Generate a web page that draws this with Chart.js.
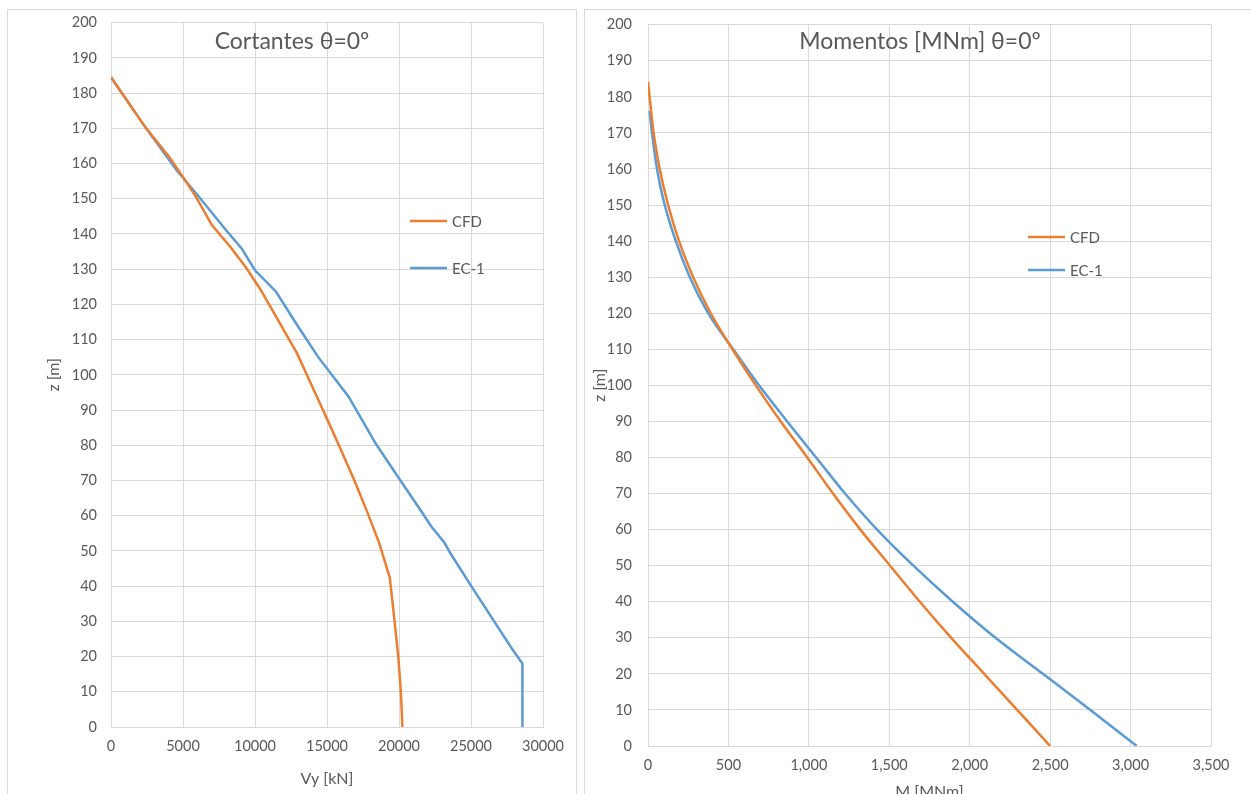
<!DOCTYPE html>
<html>
<head>
<meta charset="utf-8">
<script src="https://cdn.jsdelivr.net/npm/chart.js@4.4.1/dist/chart.umd.min.js"></script>
<style>
  html, body { margin: 0; padding: 0; background: #fff; }
  body { width: 1251px; height: 794px; overflow: hidden; position: relative; }
  .frame { position: absolute; border: 1px solid #d9d9d9; background: #fff; }
  canvas { position: absolute; top: 0; }
</style>
</head>
<body>
<div class="frame" style="left:7px; top:9px; width:568px; height:820px;"></div>
<div class="frame" style="left:584px; top:9px; width:700px; height:820px;"></div>
<canvas id="shearChart" style="left:0px;" width="580" height="794"></canvas>
<canvas id="momentChart" style="left:583px;" width="668" height="820"></canvas>

<script>
// Cortantes (shear) - z [m] vs Vy [kN]
const shearCfdZ = [184.5, 170, 161.9, 157.2, 150.6, 142.4, 136.4, 130.7, 124.1, 112.8, 106.1, 93.8, 84.8, 78.6, 70, 60.8, 52.3, 42.4, 30.5, 20, 10, 0];
const shearCfdV = [0, 2440, 4030, 4830, 5890, 7030, 8280, 9340, 10400, 11990, 12920, 14300, 15300, 15980, 16900, 17820, 18620, 19360, 19680, 19950, 20130, 20240];
const shearEcZ = [184.5, 170, 158.1, 151, 141, 135.9, 129.7, 123.6, 115, 105.1, 93.8, 80.5, 70, 61.2, 57, 52.3, 49.4, 40, 30, 22.5, 18, 0];
const shearEcV = [0, 2440, 4560, 6020, 8010, 9070, 10000, 11460, 12790, 14380, 16500, 18380, 20100, 21560, 22230, 23160, 23560, 25020, 26610, 27800, 28570, 28570];

// Momentos - z [m] vs M [MNm]
const momentCfdZ = [184.2, 180, 170, 160, 150, 140, 130, 120, 110, 100, 90, 80, 70, 60, 50, 40, 30, 20, 10, 0];
const momentCfdM = [0, 10, 35, 73, 125, 193, 281, 390, 525, 670, 825, 990, 1150, 1320, 1505, 1690, 1885, 2090, 2295, 2500];
const momentEcZ = [176.1, 170, 160, 150, 140, 130, 120, 110, 100, 90, 80, 70, 60, 50, 40, 30, 20, 10, 0];
const momentEcM = [10, 25, 56, 104, 173, 260, 374, 530, 690, 865, 1045, 1225, 1424, 1650, 1895, 2160, 2455, 2750, 3038];

const seriesNames = ['CFD', 'EC-1'];
const seriesColors = ['#ED7D31', '#5B9BD5'];

const textColor = '#595959';
const gridColor = '#d9d9d9';

Chart.defaults.font.family = 'Lato, "Open Sans", "DejaVu Sans", sans-serif';
Chart.defaults.color = textColor;

function toPoints(xs, zs) {
    return zs.map((z, i) => ({ x: xs[i], y: z }));
}

// Draws the overlay title and legend the way Excel places them inside the plot
const overlayPlugin = {
    id: 'overlay',
    afterDraw(chart, args, opts) {
        const ctx = chart.ctx;
        ctx.save();
        ctx.fillStyle = textColor;
        ctx.font = '23px Lato, "Open Sans", "DejaVu Sans", sans-serif';
        ctx.textAlign = 'center';
        ctx.textBaseline = 'middle';
        ctx.fillText(opts.title, opts.titleX, opts.titleY);

        ctx.font = '15px Lato, "Open Sans", "DejaVu Sans", sans-serif';
        ctx.textAlign = 'left';
        chart.data.datasets.forEach((ds, i) => {
            const y = opts.legendY[i];
            ctx.strokeStyle = ds.borderColor;
            ctx.lineWidth = 2.5;
            ctx.beginPath();
            ctx.moveTo(opts.legendX, y);
            ctx.lineTo(opts.legendX + 37, y);
            ctx.stroke();
            ctx.fillText(ds.label, opts.legendX + 42, y + 1);
        });
        ctx.restore();
    }
};

function makeChart(id, cfg) {
    const ctx = document.getElementById(id);
    if (!ctx) return;

    new Chart(ctx, {
        type: 'scatter',
        data: {
            datasets: cfg.series.map((s, i) => ({
                label: seriesNames[i],
                data: s,
                showLine: true,
                borderColor: seriesColors[i],
                backgroundColor: seriesColors[i],
                borderWidth: 2.5,
                pointRadius: 0,
                tension: cfg.smooth ? 0.4 : 0,
                cubicInterpolationMode: cfg.smooth ? 'monotone' : 'default'
            }))
        },
        options: {
            responsive: false,
            animation: false,
            layout: {
                padding: { left: 0, top: 21, right: cfg.padRight, bottom: 0 }
            },
            plugins: {
                legend: { display: false },
                tooltip: { enabled: false },
                title: { display: false },
                overlay: cfg.overlay
            },
            scales: {
                x: {
                    type: 'linear',
                    min: cfg.xMin,
                    max: cfg.xMax,
                    ticks: {
                        stepSize: cfg.xStep,
                        padding: 11,
                        color: textColor,
                        font: { size: 14.5 },
                        maxRotation: 0,
                        callback: cfg.xFormat
                    },
                    grid: { color: gridColor, drawTicks: false },
                    border: { color: gridColor },
                    title: {
                        display: true,
                        text: cfg.xTitle,
                        color: textColor,
                        font: { size: 16 },
                        padding: { top: 0, bottom: cfg.xTitlePad }
                    },
                    afterFit: (axis) => { axis.height = cfg.xAxisHeight; }
                },
                y: {
                    type: 'linear',
                    min: 0,
                    max: 200,
                    ticks: {
                        stepSize: 10,
                        padding: cfg.yTickPad,
                        color: textColor,
                        font: { size: 14.5 }
                    },
                    grid: { color: gridColor, drawTicks: false },
                    border: { color: gridColor },
                    title: {
                        display: true,
                        text: 'z [m]',
                        color: textColor,
                        font: { size: 16 },
                        padding: { top: cfg.yTitlePad, bottom: 0 }
                    },
                    afterFit: (axis) => { axis.width = cfg.yAxisWidth; }
                }
            }
        },
        plugins: [overlayPlugin]
    });
}

makeChart('shearChart', {
    series: [toPoints(shearCfdV, shearCfdZ), toPoints(shearEcV, shearEcZ)],
    smooth: false,
    xMin: 0, xMax: 30000, xStep: 5000,
    xFormat: (v) => String(v),
    xTitle: 'Vy [kN]',
    padRight: 37,
    xAxisHeight: 67,
    yAxisWidth: 111,
    xTitlePad: 6,
    yTickPad: 14,
    yTitlePad: 44,
    overlay: { title: 'Cortantes θ=0º', titleX: 292, titleY: 42, legendX: 410, legendY: [221, 268] }
});

makeChart('momentChart', {
    series: [toPoints(momentCfdM, momentCfdZ), toPoints(momentEcM, momentEcZ)],
    smooth: true,
    xMin: 0, xMax: 3500, xStep: 500,
    xFormat: (v) => v.toLocaleString('en-US'),
    xTitle: 'M [MNm]',
    padRight: 40,
    xAxisHeight: 74,
    yAxisWidth: 65,
    xTitlePad: 19,
    yTickPad: 16,
    yTitlePad: 7,
    overlay: { title: 'Momentos [MNm] θ=0º', titleX: 337, titleY: 42, legendX: 445, legendY: [237, 270] }
});
</script>
</body>
</html>
